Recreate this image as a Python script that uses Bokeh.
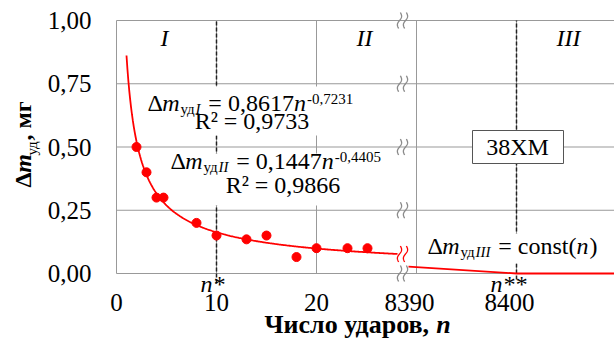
import numpy as np
from bokeh.plotting import figure
from bokeh.models import Range1d, Label, BoxAnnotation
from bokeh.embed import file_html
from bokeh.resources import INLINE

# ---------------- data ----------------
n_points = [2, 3, 4, 4.7, 8, 10, 13, 15, 18, 20, 23.1, 25.1]
dm_points = [0.50, 0.40, 0.30, 0.30, 0.20, 0.15, 0.135, 0.15, 0.065, 0.10, 0.10, 0.10]
fit_I_coef = 0.8617
fit_I_exp = -0.7231
fit_I_span = [1.0, 28.1]
n_III = [8389.2, 8400, 8409.8]
dm_III = [0.027, 0.0, 0.0]
left_ticks = [0, 10, 20]
right_ticks = [8390, 8400]
y_ticks = [0, 0.25, 0.5, 0.75, 1.0]
y_tick_labels = ["0,00", "0,25", "0,50", "0,75", "1,00"]
n_star = 10
n_star2 = 8400
left_span = [0, 30]
right_span = [8390, 8409.8]

FONT = "Liberation Serif"
GRID = "#999999"
RED = "#ff0000"
W, H = 614, 341
FX0, FY0, FY1 = 116, 20, 273          # frame: left px, top px, bottom px
PXU = 10.0                              # px per n unit
PYU = (FY1 - FY0) / (y_ticks[-1] - y_ticks[0])


def X(px):
    return (px - FX0) / PXU


def Y(py):
    return (FY1 - py) / PYU


offset = right_span[0] - left_span[1]
p = figure(width=W, height=H, output_backend="svg", toolbar_location=None,
           x_range=Range1d(X(0), X(W)), y_range=Range1d(Y(H), Y(0)),
           x_axis_location=None, y_axis_location=None,
           min_border=0, min_border_left=0, min_border_right=0,
           min_border_top=0, min_border_bottom=0)
p.extra_x_ranges = {"r": Range1d(X(0) + offset, X(W) + offset)}
p.outline_line_color = None
p.grid.visible = False
p.background_fill_color = "white"
p.border_fill_color = "white"

x_end = right_span[1] - offset
# grid / frame lines
p.segment(x0=[left_span[0]] * len(y_ticks), x1=[x_end] * len(y_ticks),
          y0=y_ticks, y1=y_ticks, line_color=GRID, line_width=1)
p.segment(x0=left_ticks, x1=left_ticks, y0=[y_ticks[0]] * len(left_ticks),
          y1=[y_ticks[-1]] * len(left_ticks), line_color=GRID, line_width=1)
p.segment(x0=right_ticks, x1=right_ticks, y0=[y_ticks[0]] * len(right_ticks),
          y1=[y_ticks[-1]] * len(right_ticks), line_color=GRID, line_width=1,
          x_range_name="r")

# dashed n* lines
p.segment(x0=[n_star], y0=[Y(283)], x1=[n_star], y1=[y_ticks[-1]],
          line_color="#222222", line_width=1.5, line_dash="4 2")
p.segment(x0=[n_star2], y0=[Y(279)], x1=[n_star2], y1=[y_ticks[-1]],
          line_color="#222222", line_width=1.5, line_dash="4 2", x_range_name="r")

# fitted curve and region III line, data points
nn = np.linspace(fit_I_span[0], fit_I_span[1], 300)
p.line(nn, fit_I_coef * nn ** fit_I_exp, line_color=RED, line_width=1.8)
p.line(n_III, dm_III, line_color=RED, line_width=1.8, x_range_name="r")
p.scatter(n_points, dm_points, size=9, color=RED)


# axis-break squiggles
def squiggles(py, color):
    xs, ys = [], []
    t = np.linspace(0, 1, 30)
    s = 1 - 2 * t
    for px0 in (397, 403):
        xs.append([X(v) for v in px0 + 2 + 0.9 * s ** 3 + 2.0 * np.sin(np.pi * s)])
        ys.append([Y(v) for v in py - 8 + 16 * t])
    p.multi_line(xs, ys, line_color=color, line_width=1.3)


for yv in y_ticks:
    squiggles(FY1 - yv * PYU, "#8a8a8a")
end_v = fit_I_coef * fit_I_span[1] ** fit_I_exp
squiggles(FY1 - end_v * PYU, RED)


# white backgrounds behind equations and the material box
def box(px0, px1, py0, py1, line=None):
    p.add_layout(BoxAnnotation(left=X(px0), right=X(px1), top=Y(py0), bottom=Y(py1),
                               fill_color="white", fill_alpha=1.0,
                               line_color=line if line else "white",
                               line_alpha=1.0 if line else 0.0, line_width=1))


box(143, 362, 86, 135)
box(169, 392, 153, 205)
box(424, 600, 233, 263)
box(472, 563, 130, 163, line="#555555")

WID = {'Δ': .61, 'm': .72, 'n': .5, 'у': .5, 'д': .5, 'I': .33, '=': .564, ' ': .25,
       ',': .25, '-': .333, 'c': .444, 'o': .5, 's': .389, 't': .278, '(': .333, ')': .333,
       'м': .667, 'г': .444, 'Ч': .722, 'и': .556, 'с': .444, 'л': .556, 'о': .5, 'а': .5,
       'р': .556, 'в': .5}


def width(text, size):
    return sum(WID.get(c, 0.5) for c in text) * size


def lab(text, px, py_base, size, style="normal", align="left", x_range_name="default",
        x=None, y=None, xoff=0):
    # py_base = alphabetic baseline in px; placed via middle baseline
    p.add_layout(Label(x=X(px) if x is None else x,
                       y=Y(py_base - 0.33 * size) if y is None else y,
                       x_offset=xoff, text=text, text_font=FONT,
                       text_font_size=f"{size}px", text_font_style=style,
                       text_align=align, text_baseline="middle", text_color="black",
                       x_range_name=x_range_name))


def seq(pieces, px, py):
    for text, size, style, dy, gap in pieces:
        lab(text, px + gap, py + dy, size, style)
        px += gap + width(text, size)


def seq_v(pieces, bx, py):
    # rotated 90 deg, reading bottom to top; bx = baseline x
    for text, size, style, dx in pieces:
        p.add_layout(Label(x=X(bx + dx - 0.33 * size), y=Y(py), text=text, text_font=FONT,
                           text_font_size=f"{size}px", text_font_style=style,
                           text_align="left", text_baseline="middle", angle=np.pi / 2,
                           text_color="black"))
        py -= width(text, size)


# tick labels (positions from the tick arrays through the scales)
for t in left_ticks:
    lab(str(t), 0, 0, 25, align="center", x=t, y=Y(302))
for t in right_ticks:
    lab(str(t), 0, 0, 25, align="center", x=t, y=Y(302), x_range_name="r", xoff=-7)
for v, s in zip(y_ticks, y_tick_labels):
    lab(s, 91, 0, 25, align="right", y=v)

# equations
seq([("Δ", 24, "normal", 0, 0), ("m", 24, "italic", 0, 0), ("уд", 15, "normal", 3, 1),
     ("I", 15, "italic", 3, 0), ("= 0,8617", 24, "normal", 0, 8), ("n", 24, "italic", 0, 0),
     ("-0,7231", 15, "normal", -7, 1)], 147, 110)
lab("R² = 0,9733", 251.5, 128, 24, align="center")
seq([("Δ", 24, "normal", 0, 0), ("m", 24, "italic", 0, 0), ("уд", 15, "normal", 3, 1),
     ("II", 15, "italic", 3, 0), ("= 0,1447", 24, "normal", 0, 8), ("n", 24, "italic", 0, 0),
     ("-0,4405", 15, "normal", -7, 1)], 170, 168)
lab("R² = 0,9866", 282.5, 192, 24, align="center")
seq([("Δ", 24, "normal", 0, 0), ("m", 24, "italic", 0, 0), ("уд", 15, "normal", 3, 1),
     ("III", 15, "italic", 3, 0), ("= const(", 24, "normal", 0, 8), ("n", 24, "italic", 0, 0),
     (")", 24, "normal", 0, 1)], 427, 253)

lab("38ХМ", 517, 154, 24, align="center")

# region labels
lab("I", 164, 45, 24, "italic", align="center")
lab("II", 364, 45, 24, "italic", align="center")
lab("III", 568, 45, 24, "italic", align="center")

# n* labels
lab("n*", 212, 291, 24, "italic", align="center")
lab("n**", 508, 291, 24, "italic", align="center")

# axis titles
seq([("Число ударов,", 26, "bold", 0, 0), ("n", 26, "bold italic", 0, 7)], 264, 333)
seq_v([("Δ", 24, "bold", 0), ("m", 24, "bold italic", 0), ("уд", 15, "normal", 6),
       (", мг", 24, "bold", 0)], 30, 187)

open("out.html", "w").write(file_html(p, INLINE))
